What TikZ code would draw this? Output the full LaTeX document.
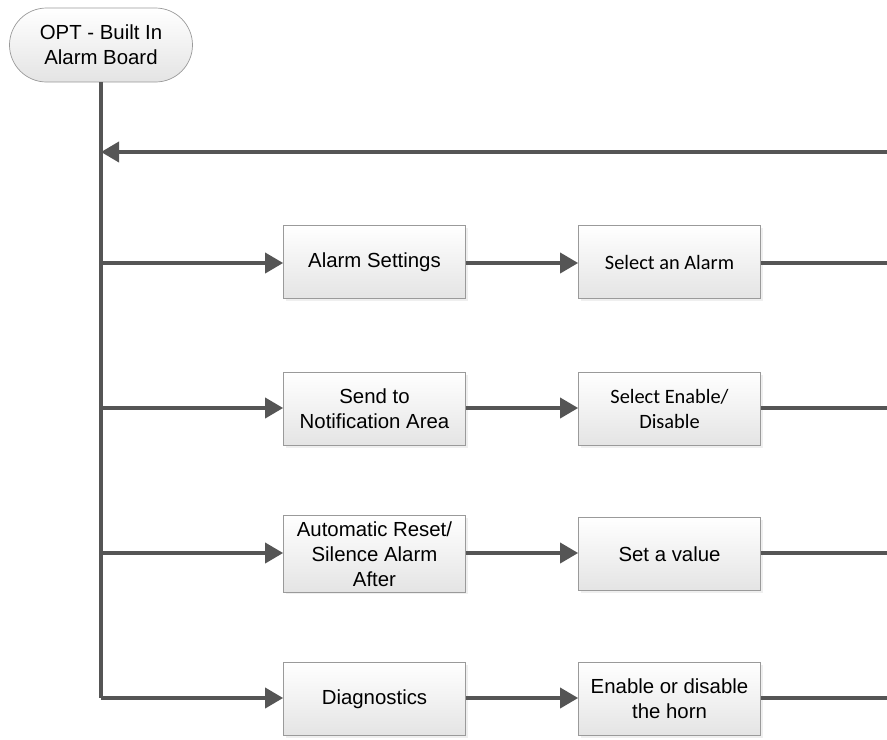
\documentclass[tikz,border=0pt]{standalone}
\usepackage{fontspec}
\setmainfont{Liberation Sans}
\newfontfamily\calib{Carlito}
\usetikzlibrary{calc, shapes, shadows, arrows.meta}
\definecolor{flowline}{HTML}{555555}
\definecolor{boxedge}{HTML}{9A9A9A}
\definecolor{boxshade}{HTML}{E4E4E4}

\begin{document}
\begin{tikzpicture}
	\tikzstyle{terminal}=[rectangle, draw=boxedge, rounded corners=0.74cm,
	thin, bottom color=boxshade, top color=white, align=center,
	font=\fontsize{11.6}{14.2}\selectfont, minimum width=3.66cm, minimum height=1.48cm]
	\tikzstyle{stepbox} = [rectangle, draw=boxedge, thin,
	bottom color=boxshade, top color=white, align=center,
	drop shadow={shadow xshift=0.04cm, shadow yshift=-0.04cm, fill=black!12},
	font=\fontsize{11.6}{14.2}\selectfont, minimum width=3.64cm, minimum height=1.46cm]
	\tikzstyle{flow} = [draw=flowline, line width=2.1pt,
	-{Triangle[length=0.36cm, width=0.4cm]}]
	\tikzstyle{plain} = [draw=flowline, line width=2.1pt]

	\useasboundingbox (0,0) rectangle (17.74,-14.8);

	\node[terminal] at (2.02,-0.9) (start) {OPT - Built In\\Alarm Board};

	% trunk and return line
	\coordinate (back) at (2.02,-3.04);
	\coordinate (backin) at (17.74,-3.04);
	\coordinate (t1) at (2.02,-5.26);
	\coordinate (t2) at (2.02,-8.16);
	\coordinate (t3) at (2.02,-11.06);
	\coordinate (t4) at (2.02,-13.96);
	\draw[plain] (start.south) -- (t4);
	\draw[flow] (backin) -- (back);

	% first column
	\node[stepbox] at (7.49,-5.24) (settings) {Alarm Settings};
	\node[stepbox] at (7.49,-8.18) (notify) {Send to\\Notification Area};
	\node[stepbox] at (7.49,-11.08) (reset) {Automatic Reset/\\Silence Alarm\\After};
	\node[stepbox] at (7.49,-13.98) (diag) {Diagnostics};

	% second column
	\node[stepbox] at (13.39,-5.24) (pick) {\calib Select an Alarm};
	\node[stepbox] at (13.39,-8.18) (toggle) {\calib Select Enable/\\\calib Disable};
	\node[stepbox] at (13.39,-11.08) (value) {Set a value};
	\node[stepbox] at (13.39,-13.98) (horn) {Enable or disable\\the horn};

	\coordinate (e1) at (17.74,-5.26);
	\coordinate (e2) at (17.74,-8.16);
	\coordinate (e3) at (17.74,-11.06);
	\coordinate (e4) at (17.74,-13.96);

	\draw[flow] (t1) -- (settings.west |- t1);
	\draw[flow] (t2) -- (notify.west |- t2);
	\draw[flow] (t3) -- (reset.west |- t3);
	\draw[flow] (t4) -- (diag.west |- t4);

	\draw[flow] (settings.east |- t1) -- (pick.west |- t1);
	\draw[flow] (notify.east |- t2) -- (toggle.west |- t2);
	\draw[flow] (reset.east |- t3) -- (value.west |- t3);
	\draw[flow] (diag.east |- t4) -- (horn.west |- t4);

	\draw[plain] (pick.east |- e1) -- (e1);
	\draw[plain] (toggle.east |- e2) -- (e2);
	\draw[plain] (value.east |- e3) -- (e3);
	\draw[plain] (horn.east |- e4) -- (e4);
\end{tikzpicture}
\end{document}
